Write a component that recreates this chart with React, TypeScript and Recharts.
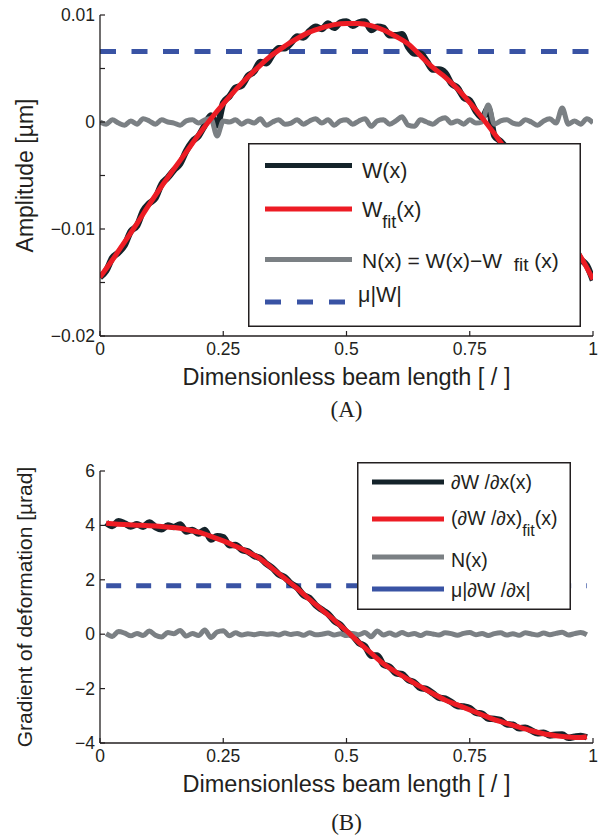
import React from "react";
import { LineChart, Line, XAxis, YAxis } from "recharts";

// x positions along the beam (step 1/80)
const xGrid = [
  0, 0.0125, 0.025, 0.0375, 0.05, 0.0625, 0.075, 0.0875,
  0.1, 0.1125, 0.125, 0.1375, 0.15, 0.1625, 0.175, 0.1875,
  0.2, 0.2125, 0.225, 0.2375, 0.25, 0.2625, 0.275, 0.2875,
  0.3, 0.3125, 0.325, 0.3375, 0.35, 0.3625, 0.375, 0.3875,
  0.4, 0.4125, 0.425, 0.4375, 0.45, 0.4625, 0.475, 0.4875,
  0.5, 0.5125, 0.525, 0.5375, 0.55, 0.5625, 0.575, 0.5875,
  0.6, 0.6125, 0.625, 0.6375, 0.65, 0.6625, 0.675, 0.6875,
  0.7, 0.7125, 0.725, 0.7375, 0.75, 0.7625, 0.775, 0.7875,
  0.8, 0.8125, 0.825, 0.8375, 0.85, 0.8625, 0.875, 0.8875,
  0.9, 0.9125, 0.925, 0.9375, 0.95, 0.9625, 0.975, 0.9875,
  1,
];

// (A) amplitude
const topW = [
  -0.0145, -0.0139, -0.0127, -0.0122, -0.0115, -0.0102, -0.0097, -0.0083,
  -0.0076, -0.0071, -0.0058, -0.0052, -0.0045, -0.0039, -0.0027, -0.0018,
  -0.0013, -0.0003, 0.0006, -0.0003, 0.0018, 0.0024, 0.0032, 0.0034,
  0.0043, 0.0047, 0.0056, 0.0055, 0.0063, 0.0069, 0.0069, 0.0074,
  0.008, 0.0079, 0.0085, 0.0089, 0.0087, 0.0092, 0.0088, 0.0093,
  0.0094, 0.009, 0.0093, 0.0094, 0.0086, 0.0089, 0.0088, 0.0081,
  0.0081, 0.0082, 0.007, 0.0064, 0.0064, 0.0057, 0.0049, 0.0049,
  0.0046, 0.0036, 0.0032, 0.0023, 0.002, 0.001, 0.0004, 0.0013,
  -0.0013, -0.0018, -0.0025, -0.0036, -0.0045, -0.005, -0.006, -0.0072,
  -0.0077, -0.0083, -0.0095, -0.0089, -0.0112, -0.0117, -0.0128, -0.0134,
  -0.0148,
];
const topNoise = [
  0, -0.0002, 0.0002, -0.0001, -0.0003, 0.0001, -0.0002, 0.0003,
  0.0001, -0.0002, 0.0002, 0, -0.0001, -0.0003, 0.0001, 0.0002,
  -0.0001, 0.0002, 0.0003, -0.0013, 0.0001, 0, 0.0002, -0.0002,
  0.0001, -0.0001, 0.0003, -0.0003, 0, 0.0002, -0.0002, -0.0001,
  0.0002, -0.0002, 0.0001, 0.0003, -0.0001, 0.0002, -0.0003, 0.0001,
  0.0002, -0.0002, 0.0001, 0.0003, -0.0004, 0.0001, 0.0002, -0.0002,
  0.0001, 0.0005, -0.0003, -0.0004, 0.0002, 0, -0.0002, 0.0002,
  0.0004, -0.0001, 0.0001, -0.0002, 0.0002, -0.0001, 0, 0.0016,
  -0.0002, 0.0001, 0.0002, -0.0001, -0.0002, 0.0002, 0, -0.0003,
  0.0001, 0.0003, -0.0001, 0.0013, -0.0002, 0.0001, -0.0002, 0.0003,
  -0.0001,
];
const topFitX = xGrid.filter((_, i) => i % 2 === 0);
const topFit = [
  -0.0145, -0.0129, -0.0112, -0.0095, -0.0077, -0.006, -0.0044, -0.0028,
  -0.0012, 0.0003, 0.0017, 0.003, 0.0042, 0.0053, 0.0063, 0.0071,
  0.0078, 0.0084, 0.0088, 0.0091, 0.0092, 0.0092, 0.009, 0.0086,
  0.008, 0.0073, 0.0062, 0.0051, 0.0042, 0.0031, 0.0018, 0.0004,
  -0.0011, -0.0027, -0.0043, -0.006, -0.0078, -0.0094, -0.011, -0.0126,
  -0.0147,
];
const topMu = 0.0066;
const topYTicks = [-0.02, -0.015, -0.01, -0.005, 0, 0.005, 0.01];
const topYLabels = ["\u22120.02", "", "\u22120.01", "", "0", "", "0.01"];

// (B) gradient
const botX = xGrid.slice(1, 80);
const botW = [
  4.1, 3.98, 4.15, 4.07, 3.96, 4.04, 3.95,
  4.11, 3.94, 3.86, 4.0, 3.94, 4.03, 3.78, 3.83,
  3.7, 3.83, 3.48, 3.6, 3.56, 3.27, 3.28, 3.1,
  3.04, 2.88, 2.8, 2.59, 2.43, 2.2, 2.09, 1.86,
  1.71, 1.44, 1.33, 1.07, 0.9, 0.75, 0.49, 0.34,
  0.07, -0.06, -0.32, -0.44, -0.79, -0.78, -1.12, -1.2,
  -1.43, -1.47, -1.68, -1.77, -1.98, -2.02, -2.17, -2.33,
  -2.37, -2.49, -2.64, -2.66, -2.72, -2.89, -2.93, -3.1,
  -3.12, -3.16, -3.31, -3.33, -3.46, -3.44, -3.54, -3.64,
  -3.62, -3.72, -3.7, -3.69, -3.81, -3.77, -3.74, -3.79,
];
const botNoise = [
  0.02, -0.08, 0.1, 0.04, -0.06, 0.03, -0.05,
  0.12, -0.04, -0.1, 0.06, 0.02, 0.14, -0.07, 0.03,
  -0.05, 0.15, -0.12, 0.08, 0.13, -0.06, 0.05, -0.03,
  0.02, -0.02, 0.03, 0, 0.02, -0.03, 0.04, -0.01,
  0.03, -0.04, 0.05, -0.02, 0, 0.04, -0.03, 0.02,
  -0.05, 0.03, -0.02, 0.06, -0.09, 0.12, -0.03, 0.04,
  -0.04, 0.06, -0.02, 0.03, -0.05, 0.04, 0.01, -0.03,
  0.05, 0.02, -0.04, 0.03, 0.06, -0.02, 0.03, -0.05,
  0.02, 0.05, -0.03, 0.02, -0.04, 0.05, 0.01, -0.03,
  0.04, -0.02, 0.03, 0.07, -0.03, 0.02, 0.06, -0.02,
];
const botFitX = [0.0125, ...xGrid.filter((_, i) => i % 2 === 0 && i > 0 && i < 80), 0.9875];
const botFit = [
  4.08, 4.06, 4.03, 4.01, 3.99, 3.96, 3.92, 3.85, 3.75, 3.6,
  3.43, 3.23, 3.02, 2.77, 2.41, 2.05, 1.68, 1.28, 0.9, 0.52,
  0.12, -0.3, -0.7, -1.09, -1.39, -1.66, -1.93, -2.18, -2.42, -2.6,
  -2.78, -2.96, -3.14, -3.28, -3.42, -3.55, -3.66, -3.73, -3.78, -3.8,
  -3.77,
];
const botMu = 1.78;
const botYTicks = [-4, -2, 0, 2, 4, 6];
const botYLabels = ["\u22124", "\u22122", "0", "2", "4", "6"];

const xTicks = [0, 0.25, 0.5, 0.75, 1];
const xLabels = ["0", "0.25", "0.5", "0.75", "1"];

const FONT = '"Liberation Sans", Arial, Helvetica, sans-serif';
const INK = "#231f20";
const C_W = "#14232a";
const C_FIT = "#ed1c24";
const C_N = "#7b8084";
const C_MU = "#3953a4";

const pts = (xs: number[], ys: number[]) => xs.map((x, i) => ({ x, y: ys[i] }));
const xGridFor = (ys: number[]) => (ys.length === xGrid.length ? xGrid : botX);

const makeYTick = (labels: string[]) => (props: any) => {
  const { x, y, index } = props;
  return (
    <g>
      <line x1={x} x2={x + 5} y1={y} y2={y} stroke={INK} strokeWidth={1.2} />
      <text x={x - 5} y={y + 6} textAnchor="end" fontSize={17.5} fontFamily={FONT} fill={INK}>
        {labels[index]}
      </text>
    </g>
  );
};

const XTick = (props: any) => {
  const { x, y, index } = props;
  return (
    <g>
      <line x1={x} x2={x} y1={y} y2={y - 5} stroke={INK} strokeWidth={1.2} />
      <text x={x} y={y + 19} textAnchor="middle" fontSize={17.5} fontFamily={FONT} fill={INK}>
        {xLabels[index]}
      </text>
    </g>
  );
};

const axisStroke = { stroke: INK, strokeWidth: 1.3 };
const labelStyle = { fontSize: 23.5, fontFamily: FONT, fill: INK };

const Panel = ({ height, marginTop, yDomain, yTicks, yLabels, yTitle, yTitleSize, w, noise, fitX, fit, muX, mu, dash }: any) => (
  <div style={{ position: "absolute", left: 0, top: 0 }}>
    <LineChart width={603} height={height} margin={{ top: marginTop, right: 10, bottom: 0, left: 0 }}>
      <XAxis
        type="number"
        dataKey="x"
        domain={[0, 1]}
        ticks={xTicks}
        interval={0}
        height={60}
        tickSize={0}
        tickMargin={0}
        tickLine={false}
        axisLine={axisStroke}
        tick={XTick}
        allowDataOverflow
        label={{ value: "Dimensionless beam length [ / ]", position: "insideBottom", offset: 11, style: labelStyle }}
      />
      <YAxis
        type="number"
        domain={yDomain}
        ticks={yTicks}
        interval={0}
        width={100}
        tickSize={0}
        tickMargin={0}
        tickLine={false}
        axisLine={axisStroke}
        tick={makeYTick(yLabels)}
        allowDataOverflow
        label={{ value: yTitle, angle: -90, position: "insideLeft", offset: 25, style: { ...labelStyle, fontSize: yTitleSize, textAnchor: "middle" } }}
      />
      <Line data={pts(muX, [mu, mu])} dataKey="y" type="linear" stroke={C_MU} strokeWidth={5} strokeDasharray={dash} dot={false} isAnimationActive={false} />
      <Line data={pts(xGridFor(w), w)} dataKey="y" type="monotone" stroke={C_W} strokeWidth={6.5} dot={false} isAnimationActive={false} />
      <Line data={pts(xGridFor(noise), noise)} dataKey="y" type="monotone" stroke={C_N} strokeWidth={5} dot={false} isAnimationActive={false} />
      <Line data={pts(fitX, fit)} dataKey="y" type="monotone" stroke={C_FIT} strokeWidth={5} dot={false} isAnimationActive={false} />
    </LineChart>
  </div>
);

const txt = { fontFamily: FONT, fill: INK } as const;

const TopLegend = () => (
  <svg width={333} height={184} style={{ position: "absolute", left: 248, top: 143 }}>
    <rect x={0.75} y={0.75} width={331.5} height={182.5} fill="#fff" stroke={INK} strokeWidth={1.5} />
    <line x1={17} x2={104} y1={22.5} y2={22.5} stroke={C_W} strokeWidth={5} />
    <line x1={17} x2={104} y1={66} y2={66} stroke={C_FIT} strokeWidth={5} />
    <line x1={17} x2={104} y1={116.5} y2={116.5} stroke={C_N} strokeWidth={5} />
    <line x1={17} x2={104} y1={159} y2={159} stroke={C_MU} strokeWidth={5} strokeDasharray="16 16" />
    <text x={114} y={34.5} fontSize={21.5} {...txt}>W(x)</text>
    <text x={114} y={74} fontSize={21.5} {...txt}>
      W<tspan fontSize={18} dy={11}>fit</tspan><tspan dy={-11}>(x)</tspan>
    </text>
    <text x={114} y={125} fontSize={21} {...txt}>
      {"N(x) = W(x)\u2212W\u00a0\u00a0"}<tspan fontSize={19} dy={3}>fit</tspan><tspan dy={-3}>{"\u00a0(x)"}</tspan>
    </text>
    <text x={110} y={159} fontSize={21.5} {...txt}>{"\u03bc|W|"}</text>
  </svg>
);

const BotLegend = () => (
  <svg width={214} height={148} style={{ position: "absolute", left: 357, top: 22 }}>
    <rect x={0.75} y={0.75} width={212.5} height={146.5} fill="#fff" stroke={INK} strokeWidth={1.5} />
    <line x1={15} x2={87} y1={20} y2={20} stroke={C_W} strokeWidth={5} />
    <line x1={15} x2={87} y1={57} y2={57} stroke={C_FIT} strokeWidth={5} />
    <line x1={15} x2={87} y1={95} y2={95} stroke={C_N} strokeWidth={5} />
    <line x1={15} x2={87} y1={127} y2={127} stroke={C_MU} strokeWidth={5} />
    <text x={94} y={27.3} fontSize={19.5} {...txt}>{"\u2202W /\u2202x(x)"}</text>
    <text x={94} y={63} fontSize={19.5} {...txt}>
      {"(\u2202W /\u2202x)"}<tspan fontSize={16} dy={11}>fit</tspan><tspan dy={-11}>(x)</tspan>
    </text>
    <text x={94} y={104.7} fontSize={19.5} {...txt}>N(x)</text>
    <text x={94} y={134.7} fontSize={19.5} {...txt}>{"\u03bc|\u2202W /\u2202x|"}</text>
  </svg>
);

const caption = (top: number): React.CSSProperties => ({
  position: "absolute",
  left: 0,
  width: 693,
  top,
  textAlign: "center",
  fontFamily: '"Liberation Serif", "Times New Roman", serif',
  fontSize: 23,
  lineHeight: "26px",
  color: INK,
});

export default function App() {
  return (
    <div style={{ position: "absolute", left: 0, top: 0, width: 603, height: 840, background: "#fff", overflow: "hidden" }}>
      <div style={{ position: "absolute", left: 0, top: 0, width: 603, height: 396 }}>
        <Panel
          height={396}
          marginTop={15}
          yDomain={[-0.02, 0.01]}
          yTicks={topYTicks}
          yLabels={topYLabels}
          yTitle={"Amplitude [\u00b5m]"}
          yTitleSize={23}
          w={topW}
          noise={topNoise}
          fitX={topFitX}
          fit={topFit}
          muX={[0, 1]}
          mu={topMu}
          dash="16 15.5"
        />
        <TopLegend />
      </div>
      <div style={caption(397)}>(A)</div>

      <div style={{ position: "absolute", left: 0, top: 440, width: 603, height: 363 }}>
        <Panel
          height={363}
          marginTop={31}
          yDomain={[-4, 6]}
          yTicks={botYTicks}
          yLabels={botYLabels}
          yTitle={"Gradient of deformation [\u00b5rad]"}
          yTitleSize={21}
          w={botW}
          noise={botNoise}
          fitX={botFitX}
          fit={botFit}
          muX={[0.0125, 0.9875]}
          mu={botMu}
          dash="15 15"
        />
        <BotLegend />
      </div>
      <div style={caption(810)}>(B)</div>
    </div>
  );
}
